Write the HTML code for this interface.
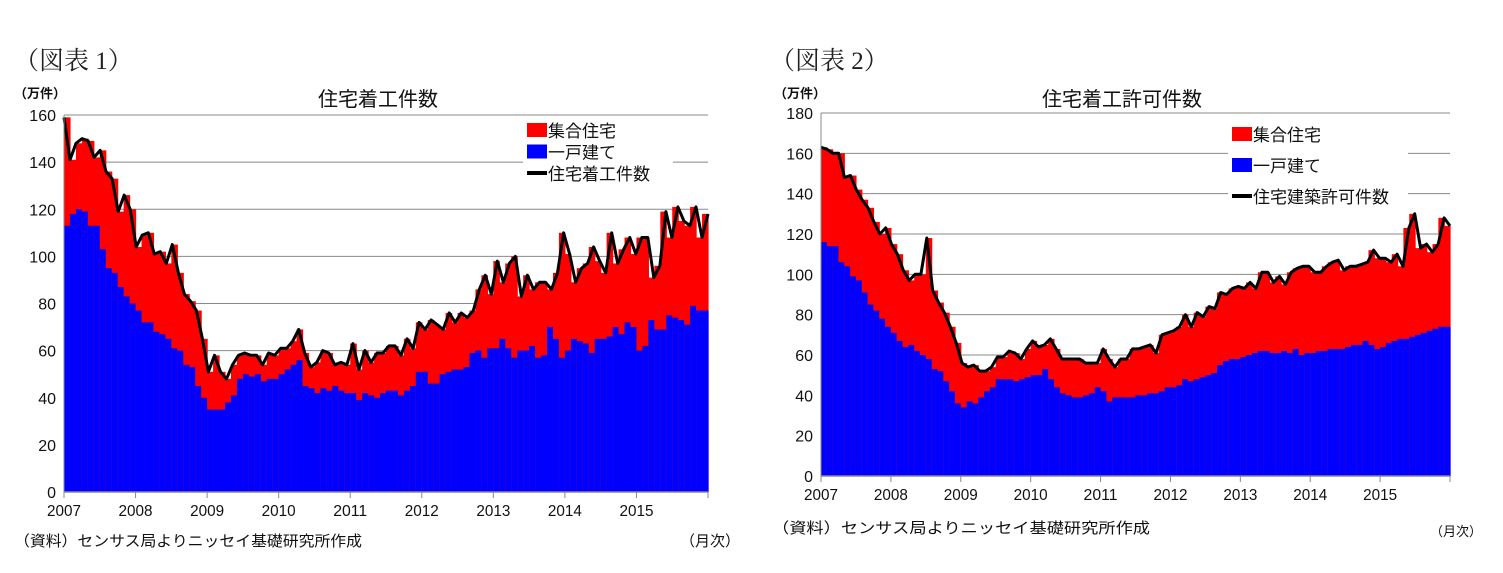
<!DOCTYPE html>
<html><head><meta charset="utf-8">
<style>
html,body{margin:0;padding:0;background:#fff;}
body{width:1503px;height:573px;overflow:hidden;position:relative;font-family:"Liberation Sans","Noto Sans CJK JP",sans-serif;}
svg{position:absolute;left:0;top:0;}
</style></head>
<body>
<svg id="root" width="1503" height="573" xmlns="http://www.w3.org/2000/svg">
<text x="14" y="69" font-family="Liberation Serif,Noto Serif CJK SC,serif" font-size="25" fill="#222">（図表 1）</text>
<text x="14" y="98" font-size="13" font-weight="bold" fill="#111" font-family="Liberation Sans,Noto Sans CJK JP,sans-serif">（万件）</text>
<text x="378" y="106" text-anchor="middle" font-size="20" fill="#111" font-family="Liberation Sans,Noto Sans CJK JP,sans-serif">住宅着工件数</text>
<text x="14" y="546" font-size="15" fill="#111" font-family="Liberation Sans,Noto Sans CJK JP,sans-serif" textLength="348" lengthAdjust="spacingAndGlyphs">（資料）センサス局よりニッセイ基礎研究所作成</text>
<text x="680" y="546" font-size="15" fill="#111" font-family="Liberation Sans,Noto Sans CJK JP,sans-serif">（月次）</text>

<text x="770" y="69" font-family="Liberation Serif,Noto Serif CJK SC,serif" font-size="25" fill="#222">（図表 2）</text>
<text x="774" y="98" font-size="13" font-weight="bold" fill="#111" font-family="Liberation Sans,Noto Sans CJK JP,sans-serif">（万件）</text>
<text x="1122" y="106" text-anchor="middle" font-size="20" fill="#111" font-family="Liberation Sans,Noto Sans CJK JP,sans-serif">住宅着工許可件数</text>
<text x="772" y="533" font-size="15" fill="#111" font-family="Liberation Sans,Noto Sans CJK JP,sans-serif" textLength="378" lengthAdjust="spacingAndGlyphs">（資料）センサス局よりニッセイ基礎研究所作成</text>
<text x="1430" y="536" font-size="13" fill="#111" font-family="Liberation Sans,Noto Sans CJK JP,sans-serif">（月次）</text>
</svg>
<script>
const years = ["2007","2008","2009","2010","2011","2012","2013","2014","2015"];
const ticks1 = [0,20,40,60,80,100,120,140,160];
const ticks2 = [0,20,40,60,80,100,120,140,160,180];
const legend1 = ["集合住宅","一戸建て","住宅着工件数"];
const legend2 = ["集合住宅","一戸建て","住宅建築許可件数"];

const starts_total = [159,141,148,150,149,142,145,136,133,119,126,120,
104,109,110,101,102,97,105,93,84,81,77,65,
51,58,51,48,54,58,59,58,58,54,59,58,
61,61,64,69,59,53,55,60,59,54,55,54,
63,52,60,55,59,59,62,62,58,65,61,72,
69,73,71,69,76,72,76,74,77,86,92,84,
98,89,97,100,83,92,86,89,89,86,93,110,
101,89,95,97,104,98,93,110,97,103,108,101,
108,108,91,96,119,108,121,115,113,121,108,118];
const starts_single = [113,118,120,119,113,113,103,95,93,87,83,80,
77,72,72,68,67,65,61,60,54,53,45,40,
35,35,35,38,41,48,50,49,50,47,48,48,
50,52,54,56,45,44,42,44,43,45,43,42,
42,39,42,41,40,42,43,43,41,43,45,51,
51,46,46,50,51,52,52,53,59,60,57,61,
61,65,61,57,60,60,62,57,58,70,65,57,
60,65,64,63,59,65,65,66,70,67,72,70,
60,62,73,69,69,75,74,73,71,79,77,77];

const permits_total = [163,162,160,160,148,149,142,137,133,126,120,123,
115,110,102,97,100,100,118,92,86,81,74,66,
56,54,55,52,52,54,59,59,62,61,58,63,
67,64,65,68,63,58,58,58,58,56,56,56,
63,58,54,58,58,63,63,64,65,61,70,71,
72,74,80,74,81,79,84,83,91,90,93,94,
93,96,93,101,101,96,99,95,101,103,104,104,
101,101,104,106,107,102,104,104,105,106,112,108,
108,106,110,104,123,130,113,115,111,115,128,124];
const permits_single = [116,114,114,106,104,99,97,91,85,82,78,74,
71,67,64,65,62,60,58,53,52,47,42,36,
34,37,36,39,42,44,48,48,48,47,48,49,
50,50,53,48,44,41,40,39,39,40,41,44,
42,37,39,39,39,39,40,40,41,41,42,44,
44,45,48,47,48,49,50,51,55,57,58,58,
59,60,61,62,62,61,61,62,61,63,60,61,
61,62,62,63,63,63,64,65,65,67,65,63,
64,66,67,68,68,69,70,71,72,73,74,74];

const NS="http://www.w3.org/2000/svg";
const root=document.getElementById('root');
function mk(tag,attrs,parent){const e=document.createElementNS(NS,tag);for(const k in attrs)e.setAttribute(k,attrs[k]);(parent||root).appendChild(e);return e;}

function drawChart(cfg, total, single, ticks, legendLabels){
  const g=mk('g',{});
  
  
  const x0=cfg.x0,x1=cfg.x1,y0=cfg.y0,y1=cfg.y1,max=ticks[ticks.length-1];
  const W=x1-x0;
  const ys=v=>y0-(v/max)*(y0-y1);
  const n=total.length;
  const bw=W/n;
  const xb=i=>x0+i*bw;
  ticks.forEach(t=>{
    const l=mk('line',{x1:x0,x2:x1,y1:ys(t),y2:ys(t),stroke:'#888','stroke-width':1},g);
    
    
    const tx=mk('text',{x:x0-8,y:ys(t)+6,'text-anchor':'end','font-size':16,fill:'#111'},g);
    
    
    tx.textContent=t;
  });
  for(let i=0;i<n;i++){
    const r=mk('rect',{x:xb(i),y:ys(total[i]),width:bw+0.6,height:ys(0)-ys(total[i]),fill:'#ff0000'},g);
    
    
    const b=mk('rect',{x:xb(i),y:ys(single[i]),width:bw+0.6,height:ys(0)-ys(single[i]),fill:'#0000ff'},g);
    
    
  }
  let d='';
  for(let i=0;i<n;i++){const x=x0+i*(W/(n-1));d+=(i?'L':'M')+x.toFixed(1)+','+ys(total[i]).toFixed(1);}
  const p=mk('path',{d:d,fill:'none',stroke:'#000','stroke-width':3,'stroke-linejoin':'round'},g);
  
  
  const ya=mk('line',{x1:x0,x2:x0,y1:y1,y2:y0,stroke:'#888','stroke-width':1},g);
  
  
  const xa=mk('line',{x1:x0,x2:x1,y1:y0,y2:y0,stroke:'#888','stroke-width':1.5},g);
  
  
  const yw=W/years.length;
  for(let k=0;k<=years.length;k++){
    const x=x0+k*yw;
    mk('line',{x1:x,x2:x,y1:y0,y2:y0+6,stroke:'#888'},g);
    if(k<years.length){
      const t=mk('text',{x:x,y:y0+24,'text-anchor':'middle','font-size':16,fill:'#111',textLength:34,lengthAdjust:'spacingAndGlyphs'},g);
      
      
      t.textContent=years[k];
    }
  }
  const L=cfg.leg;
  const lb=mk('rect',{x:L.x-4,y:L.y-14,width:L.w,height:L.gap*3+4,fill:'#fff'},g);
  
  
  const cols=['#ff0000','#0000ff','#000'];
  legendLabels.forEach((lab,i)=>{
    const yy=L.y+i*L.gap;
    if(i<2){mk('rect',{x:L.x,y:yy-8,width:20,height:14,fill:cols[i]},g);}
    else{mk('line',{x1:L.x,x2:L.x+20,y1:yy-1,y2:yy-1,stroke:'#000','stroke-width':4},g);}
    const t=mk('text',{x:L.x+21,y:yy+6,'font-size':17,fill:'#111'},g);
    
    
    t.textContent=lab;
  });
}
drawChart({name:'housing-starts-chart',x0:64,x1:708,y0:492,y1:115,leg:{x:527,y:131,gap:21.5,w:150}},starts_total,starts_single,ticks1,legend1);
drawChart({name:'building-permits-chart',x0:821,x1:1450,y0:476,y1:113,leg:{x:1232,y:135,gap:31,w:180}},permits_total,permits_single,ticks2,legend2);
</script>
</body></html>
